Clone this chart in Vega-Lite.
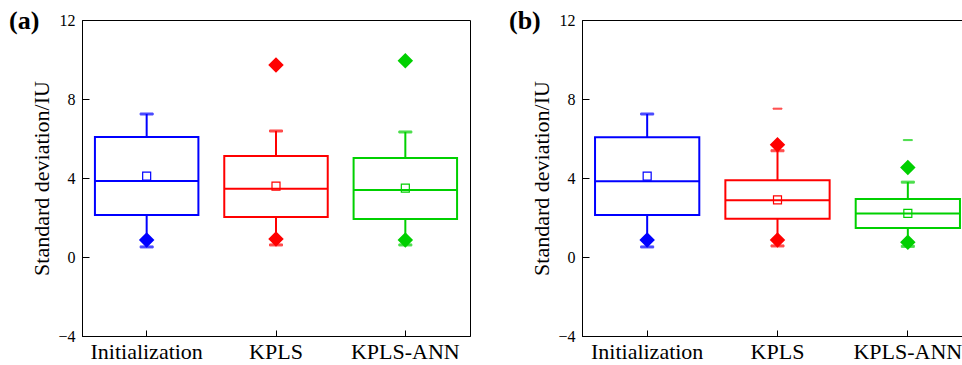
{
  "$schema": "https://vega.github.io/schema/vega-lite/v6.json",
  "padding": {"left": 8, "top": 7, "right": 0, "bottom": 0},
  "datasets": {
    "boxes": [
      {"panel": "a", "method": "Initialization", "wlo": 0.51, "q1": 2.13, "median": 3.85, "q3": 6.07, "whi": 7.24, "mean": 4.1},
      {"panel": "a", "method": "KPLS", "wlo": 0.61, "q1": 2.03, "median": 3.46, "q3": 5.11, "whi": 6.38, "mean": 3.59},
      {"panel": "a", "method": "KPLS-ANN", "wlo": 0.61, "q1": 1.92, "median": 3.39, "q3": 5.01, "whi": 6.33, "mean": 3.49},
      {"panel": "b", "method": "Initialization", "wlo": 0.51, "q1": 2.13, "median": 3.83, "q3": 6.06, "whi": 7.24, "mean": 4.09},
      {"panel": "b", "method": "KPLS", "wlo": 0.56, "q1": 1.94, "median": 2.87, "q3": 3.88, "whi": 5.38, "mean": 2.89},
      {"panel": "b", "method": "KPLS-ANN", "wlo": 0.54, "q1": 1.47, "median": 2.2, "q3": 2.94, "whi": 3.79, "mean": 2.21}
    ],
    "points": [
      {"panel": "a", "method": "Initialization", "value": 0.86, "kind": "diamond"},
      {"panel": "a", "method": "KPLS", "value": 0.91, "kind": "diamond"},
      {"panel": "a", "method": "KPLS", "value": 9.72, "kind": "diamond"},
      {"panel": "a", "method": "KPLS-ANN", "value": 0.86, "kind": "diamond"},
      {"panel": "a", "method": "KPLS-ANN", "value": 9.94, "kind": "diamond"},
      {"panel": "b", "method": "Initialization", "value": 0.86, "kind": "diamond"},
      {"panel": "b", "method": "KPLS", "value": 0.86, "kind": "diamond"},
      {"panel": "b", "method": "KPLS", "value": 5.68, "kind": "diamond"},
      {"panel": "b", "method": "KPLS", "value": 7.51, "kind": "dash"},
      {"panel": "b", "method": "KPLS-ANN", "value": 0.75, "kind": "diamond"},
      {"panel": "b", "method": "KPLS-ANN", "value": 4.53, "kind": "diamond"},
      {"panel": "b", "method": "KPLS-ANN", "value": 5.92, "kind": "dash"}
    ]
  },
  "config": {
    "font": "Liberation Serif",
    "view": {"stroke": "black", "strokeWidth": 1},
    "axis": {
      "grid": false,
      "domainColor": "black",
      "tickColor": "black",
      "labelColor": "black",
      "titleColor": "black",
      "labelFont": "Liberation Serif",
      "titleFont": "Liberation Serif"
    },
    "range": {"category": ["#0000FF", "#FF0000", "#00D000"]},
    "title": {"font": "Liberation Serif", "fontSize": 26, "fontWeight": "bold", "color": "black"}
  },
  "hconcat": [
    {
      "width": 388,
      "height": 316,
      "title": {"text": "(a)", "anchor": "start", "frame": "group", "dx": -73, "dy": 22, "offset": 0},
      "encoding": {
        "x": {
          "field": "method",
          "type": "nominal",
          "sort": ["Initialization", "KPLS", "KPLS-ANN"],
          "scale": {"paddingInner": 0, "paddingOuter": 0},
          "axis": {"title": null, "labelAngle": 0, "labelFontSize": 22, "tickSize": -6, "labelPadding": 11, "domainWidth": 1}
        },
        "color": {
          "field": "method",
          "type": "nominal",
          "scale": {"domain": ["Initialization", "KPLS", "KPLS-ANN"], "range": ["#0000FF", "#FF0000", "#00D000"]},
          "legend": null
        },
        "stroke": {
          "field": "method",
          "type": "nominal",
          "scale": {"domain": ["Initialization", "KPLS", "KPLS-ANN"], "range": ["#0000FF", "#FF0000", "#00D000"]},
          "legend": null
        }
      },
      "layer": [
        {
          "data": {"name": "boxes"},
          "transform": [{"filter": "datum.panel === 'a'"}],
          "mark": {"type": "rule", "strokeWidth": 2},
          "encoding": {
            "y": {"field": "wlo", "type": "quantitative", "scale": {"domain": [-4, 12]},
              "axis": {"title": "Standard deviation/IU", "titleFontSize": 22, "titleFontWeight": "normal", "titlePadding": 4,
                "values": [-4, -2, 0, 2, 4, 6, 8, 10, 12], "labelExpr": "datum.value % 4 === 0 ? datum.label : ''",
                "labelFontSize": 16, "tickSize": {"condition": {"test": "datum.value % 4 === 0", "value": -7}, "value": -4}, "labelPadding": 14}},
            "y2": {"field": "whi"}
          }
        },
        {
          "data": {"name": "boxes"},
          "transform": [{"filter": "datum.panel === 'a'"}, {"fold": ["wlo", "whi"], "as": ["end", "cap"]}],
          "mark": {"type": "tick", "thickness": 2, "size": 13},
          "encoding": {"y": {"field": "cap", "type": "quantitative"}}
        },
        {
          "data": {"name": "boxes"},
          "transform": [{"filter": "datum.panel === 'a'"}],
          "mark": {"type": "bar", "fill": "white", "strokeWidth": 2, "width": {"band": 0.8}},
          "encoding": {"y": {"field": "q1", "type": "quantitative"}, "y2": {"field": "q3"}, "color": {"value": "white"}}
        },
        {
          "data": {"name": "boxes"},
          "transform": [{"filter": "datum.panel === 'a'"}],
          "mark": {"type": "bar", "fill": null, "strokeWidth": 2, "width": {"band": 0.8}},
          "encoding": {"y": {"field": "median", "type": "quantitative"}, "y2": {"field": "median"}, "fill": {"value": null}}
        },
        {
          "data": {"name": "boxes"},
          "transform": [{"filter": "datum.panel === 'a'"}],
          "mark": {"type": "point", "shape": "square", "filled": false, "size": 64, "strokeWidth": 1.2, "opacity": 1},
          "encoding": {"y": {"field": "mean", "type": "quantitative"}}
        },
        {
          "data": {"name": "points"},
          "transform": [{"filter": "datum.panel === 'a' && datum.kind === 'diamond'"}],
          "mark": {"type": "point", "shape": "diamond", "filled": true, "size": 160, "opacity": 1},
          "encoding": {"y": {"field": "value", "type": "quantitative"}}
        }
      ]
    },
    {
      "width": 391,
      "height": 316,
      "title": {"text": "(b)", "anchor": "start", "frame": "group", "dx": -73, "dy": 22, "offset": 0},
      "encoding": {
        "x": {
          "field": "method",
          "type": "nominal",
          "sort": ["Initialization", "KPLS", "KPLS-ANN"],
          "scale": {"paddingInner": 0, "paddingOuter": 0},
          "axis": {"title": null, "labelAngle": 0, "labelFontSize": 22, "tickSize": -6, "labelPadding": 11, "domainWidth": 1}
        },
        "color": {
          "field": "method",
          "type": "nominal",
          "scale": {"domain": ["Initialization", "KPLS", "KPLS-ANN"], "range": ["#0000FF", "#FF0000", "#00D000"]},
          "legend": null
        },
        "stroke": {
          "field": "method",
          "type": "nominal",
          "scale": {"domain": ["Initialization", "KPLS", "KPLS-ANN"], "range": ["#0000FF", "#FF0000", "#00D000"]},
          "legend": null
        }
      },
      "layer": [
        {
          "data": {"name": "boxes"},
          "transform": [{"filter": "datum.panel === 'b'"}],
          "mark": {"type": "rule", "strokeWidth": 2},
          "encoding": {
            "y": {"field": "wlo", "type": "quantitative", "scale": {"domain": [-4, 12]},
              "axis": {"title": "Standard deviation/IU", "titleFontSize": 22, "titleFontWeight": "normal", "titlePadding": 4,
                "values": [-4, -2, 0, 2, 4, 6, 8, 10, 12], "labelExpr": "datum.value % 4 === 0 ? datum.label : ''",
                "labelFontSize": 16, "tickSize": {"condition": {"test": "datum.value % 4 === 0", "value": -7}, "value": -4}, "labelPadding": 14}},
            "y2": {"field": "whi"}
          }
        },
        {
          "data": {"name": "boxes"},
          "transform": [{"filter": "datum.panel === 'b'"}, {"fold": ["wlo", "whi"], "as": ["end", "cap"]}],
          "mark": {"type": "tick", "thickness": 2, "size": 13},
          "encoding": {"y": {"field": "cap", "type": "quantitative"}}
        },
        {
          "data": {"name": "boxes"},
          "transform": [{"filter": "datum.panel === 'b'"}],
          "mark": {"type": "bar", "fill": "white", "strokeWidth": 2, "width": {"band": 0.8}},
          "encoding": {"y": {"field": "q1", "type": "quantitative"}, "y2": {"field": "q3"}, "color": {"value": "white"}}
        },
        {
          "data": {"name": "boxes"},
          "transform": [{"filter": "datum.panel === 'b'"}],
          "mark": {"type": "bar", "fill": null, "strokeWidth": 2, "width": {"band": 0.8}},
          "encoding": {"y": {"field": "median", "type": "quantitative"}, "y2": {"field": "median"}, "fill": {"value": null}}
        },
        {
          "data": {"name": "boxes"},
          "transform": [{"filter": "datum.panel === 'b'"}],
          "mark": {"type": "point", "shape": "square", "filled": false, "size": 64, "strokeWidth": 1.2, "opacity": 1},
          "encoding": {"y": {"field": "mean", "type": "quantitative"}}
        },
        {
          "data": {"name": "points"},
          "transform": [{"filter": "datum.panel === 'b' && datum.kind === 'diamond'"}],
          "mark": {"type": "point", "shape": "diamond", "filled": true, "size": 160, "opacity": 1},
          "encoding": {"y": {"field": "value", "type": "quantitative"}}
        },
        {
          "data": {"name": "points"},
          "transform": [{"filter": "datum.panel === 'b' && datum.kind === 'dash'"}],
          "mark": {"type": "tick", "thickness": 1, "size": 9},
          "encoding": {"y": {"field": "value", "type": "quantitative"}}
        }
      ]
    }
  ],
  "spacing": 37
}
